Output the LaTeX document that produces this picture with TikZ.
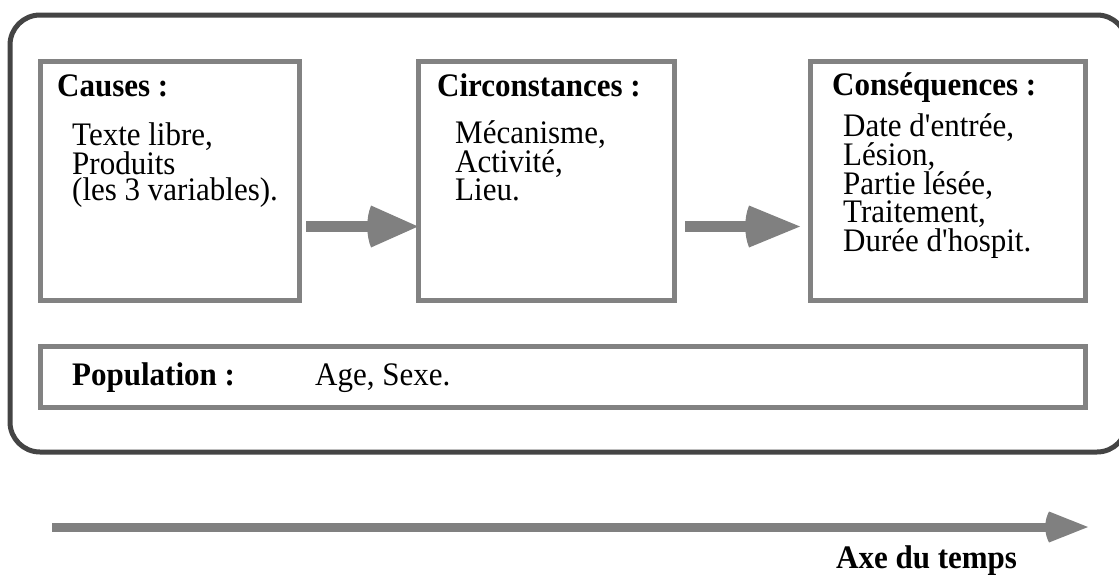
\documentclass[tikz,border=0pt]{standalone}
\usepackage{fontspec}
\setmainfont{Liberation Serif}
\usetikzlibrary{calc}
\definecolor{framedark}{RGB}{68,68,68}
\definecolor{boxgray}{RGB}{130,130,130}
\definecolor{arrowgray}{RGB}{128,128,128}
% block arrow: #1 start, #2 tip, #3 shaft half width, #4 head length, #5 head half width
\newcommand{\blockarrow}[5]{%
  \fill[arrowgray] let \p1=#1, \p2=#2 in (\x1,\y1+#3) rectangle (\x2-#4,\y1-#3);
  \fill[arrowgray] let \p2=#2 in (\x2-#4+1pt,\y2-#5) -- (\x2,\y2) -- (\x2-#4+1pt,\y2+#5)
     .. controls (\x2-#4-4pt,\y2+0.4*#5) and (\x2-#4-4pt,\y2-0.4*#5) .. cycle;}
\newcommand{\apos}{\textquotesingle}
\tikzset{
  frame/.style={draw=framedark, line width=5pt, rounded corners=30pt},
  panel/.style={draw=boxgray, line width=5pt, fill=white, inner sep=0pt, outer sep=0pt, anchor=north west},
  title/.style={font=\fontsize{31}{25}\selectfont\bfseries, anchor=base west, inner sep=0pt,
                yscale=1.06, transform shape},
  body/.style={font=\fontsize{31}{24.06}\selectfont, anchor=base west, inner sep=0pt, align=left,
               yscale=1.06, transform shape},
}
\begin{document}
\begin{tikzpicture}[x=1pt,y=-1pt]
\useasboundingbox (0,0) rectangle (1119,579);
% outer frame
\draw[frame] (10,15) rectangle (1127,452);
% panels
\node[panel, minimum width=259pt, minimum height=239pt] (causes) at (40,61) {};
\node[panel, minimum width=256pt, minimum height=239pt] (circ) at (418,61) {};
\node[panel, minimum width=275pt, minimum height=239pt] (cons) at (810,61) {};
\node[panel, minimum width=1045pt, minimum height=61pt] (pop) at (40,346) {};
% titles and contents (a multi-line node sits on its last baseline)
\node[title] (causestitle) at (57,96) {Causes :};
\node[body] (causestext) at (72,200) {Texte libre,\\Produits\\(les 3 variables).};
\node[title] (circtitle) at (437,96) {Circonstances :};
\node[body] (circtext) at (455,200) {Mécanisme,\\Activité,\\Lieu.};
\node[title] (constitle) at (832,95) {Conséquences :};
\node[body] (constext) at (843,251) {Date d\apos entrée,\\Lésion,\\Partie lésée,\\Traitement,\\Durée d\apos hospit.};
\node[title] (poptitle) at (72,385) {Population :};
\node[body] (poptext) at (315,385) {Age, Sexe.};
% arrows between panels
\blockarrow{($(causes.north east)+(7,165.5)$)}{($(circ.north west)+(0,165.5)$)}{5.5pt}{48pt}{21pt}
\blockarrow{($(circ.north east)+(11,165.5)$)}{($(cons.north west)+(-10,165.5)$)}{5.5pt}{52pt}{21pt}
% time axis
\coordinate (tstart) at (52,527);
\coordinate (tend) at (1088,527);
\blockarrow{(tstart)}{(tend)}{4.5pt}{40pt}{15.5pt}
\node[title] (timelabel) at (836,568) {Axe du temps};
\end{tikzpicture}
\end{document}
